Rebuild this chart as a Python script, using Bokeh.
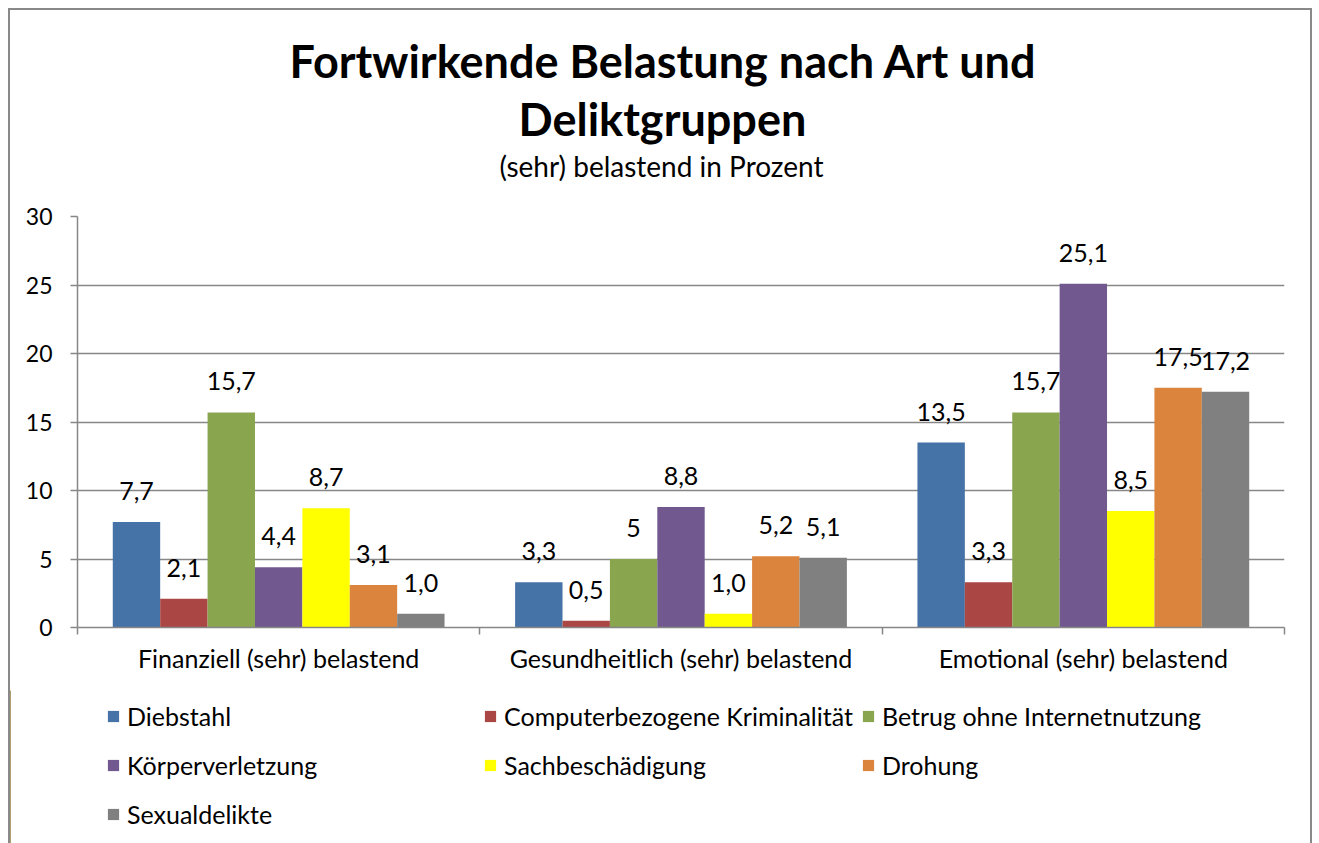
from bokeh.plotting import figure
from bokeh.layouts import column
from bokeh.models import FixedTicker, Legend, LegendItem, Title, Range1d
from bokeh.embed import file_html
from bokeh.resources import INLINE
from bokeh.core.properties import value

categories = ["Finanziell (sehr) belastend", "Gesundheitlich (sehr) belastend", "Emotional (sehr) belastend"]
series = ["Diebstahl", "Computerbezogene Kriminalität", "Betrug ohne Internetnutzung",
          "Körperverletzung", "Sachbeschädigung", "Drohung", "Sexualdelikte"]
colors = ["#4572A7", "#AA4643", "#89A54E", "#71588F", "#FFFF00", "#DB843D", "#808080"]

diebstahl = [7.7, 3.3, 13.5]
computer = [2.1, 0.5, 3.3]
betrug = [15.7, 5.0, 15.7]
koerper = [4.4, 8.8, 25.1]
sachbesch = [8.7, 1.0, 8.5]
drohung = [3.1, 5.2, 17.5]
sexual = [1.0, 5.1, 17.2]

diebstahl_lbl = ["7,7", "3,3", "13,5"]
computer_lbl = ["2,1", "0,5", "3,3"]
betrug_lbl = ["15,7", "5", "15,7"]
koerper_lbl = ["4,4", "8,8", "25,1"]
sachbesch_lbl = ["8,7", "1,0", "8,5"]
drohung_lbl = ["3,1", "5,2", "17,5"]
sexual_lbl = ["1,0", "5,1", "17,2"]

y_ticks = [0, 5, 10, 15, 20, 25, 30]

values = [diebstahl, computer, betrug, koerper, sachbesch, drohung, sexual]
labels = [diebstahl_lbl, computer_lbl, betrug_lbl, koerper_lbl, sachbesch_lbl, drohung_lbl, sexual_lbl]

FONT = "Lato"
GRAY = "#878787"
FS = "25px"

p = figure(width=1300, height=680, x_range=Range1d(0, 3), y_range=Range1d(0, 30),
           output_backend="svg", toolbar_location=None,
           min_border_left=67, min_border_right=26, min_border_top=206, min_border_bottom=63)
p.outline_line_color = None
p.background_fill_color = "white"
p.border_fill_color = "white"

bw = 0.1178
renderers = []
for j, (vals, lbls) in enumerate(zip(values, labels)):
    xs = [i + 0.5 + (j - 3) * bw for i in range(len(categories))]
    r = p.vbar(x=xs, top=vals, width=bw, fill_color=colors[j], line_color=None)
    renderers.append(r)
    p.text(x=xs, y=vals, text=lbls, text_align="center", text_baseline="middle",
           y_offset=-31, text_font=value(FONT), text_font_size=FS, text_color="black")

# y axis
p.yaxis.ticker = FixedTicker(ticks=y_ticks)
p.yaxis.major_label_text_font = FONT
p.yaxis.major_label_text_font_size = "23px"
p.yaxis.major_label_text_color = "black"
p.yaxis.major_tick_out = 7
p.yaxis.major_tick_in = 0
p.yaxis.major_tick_line_color = GRAY
p.yaxis.major_tick_line_width = 1.5
p.yaxis.minor_tick_line_color = None
p.yaxis.axis_line_color = GRAY
p.yaxis.axis_line_width = 1.5
p.yaxis.major_label_standoff = 18

# x axis
p.xaxis.ticker = FixedTicker(ticks=[0.5, 1.5, 2.5], minor_ticks=[0, 1, 2, 3])
p.xaxis.major_label_overrides = {0.5: categories[0], 1.5: categories[1], 2.5: categories[2]}
p.xaxis.major_label_text_font = FONT
p.xaxis.major_label_text_font_size = FS
p.xaxis.major_label_text_color = "black"
p.xaxis.major_tick_line_color = None
p.xaxis.major_tick_out = 0
p.xaxis.major_tick_in = 0
p.xaxis.minor_tick_out = 7
p.xaxis.minor_tick_in = 0
p.xaxis.minor_tick_line_color = GRAY
p.xaxis.minor_tick_line_width = 1.5
p.xaxis.axis_line_color = GRAY
p.xaxis.axis_line_width = 1.5
p.xaxis.major_label_standoff = 8

p.xgrid.visible = False
p.ygrid.ticker = FixedTicker(ticks=y_ticks)
p.ygrid.grid_line_color = GRAY
p.ygrid.grid_line_width = 1.5

# titles (first added = closest to plot); centred on the whole chart box
p.add_layout(Title(text=" ", text_font_size="10px", standoff=20), "above")
p.add_layout(Title(text="(sehr) belastend in Prozent", align="left", offset=422, text_font=FONT,
                   text_font_size="28px", text_font_style="normal", text_color="black",
                   standoff=1), "above")
p.add_layout(Title(text="Deliktgruppen", align="left", offset=441, text_font=FONT,
                   text_font_size="45px", text_font_style="bold", text_color="black",
                   standoff=1), "above")
p.add_layout(Title(text="Fortwirkende Belastung nach Art und", align="left", offset=212, text_font=FONT,
                   text_font_size="45px", text_font_style="bold", text_color="black",
                   standoff=3), "above")

# legend panel (separate figure below the chart)
q = figure(width=1300, height=153, x_range=Range1d(0, 1), y_range=Range1d(0, 1),
           output_backend="svg", toolbar_location=None, x_axis_type=None, y_axis_type=None,
           min_border_left=0, min_border_right=0, min_border_top=0, min_border_bottom=0,
           frame_align=False)
q.grid.visible = False
q.outline_line_color = None
q.background_fill_color = "white"
q.border_fill_color = "white"
# legend-only glyphs (zero width, nothing drawn in the panel itself)
leg_renderers = [q.vbar(x=[-5], top=[1], width=0, fill_color=c, line_color=None) for c in colors]

legend = Legend(items=[LegendItem(label=s, renderers=[r]) for s, r in zip(series, leg_renderers)],
                ncols=3, orientation="horizontal", location=(96, 9),
                label_text_font=FONT, label_text_font_size=FS, label_text_color="black",
                glyph_width=14, glyph_height=14, label_standoff=7, spacing=8,
                label_width=348, label_height=41,
                border_line_color=None, background_fill_alpha=0, padding=0, margin=0)
q.add_layout(legend, "center")

layout = column(p, q, spacing=0, margin=(8, 0, 0, 8),
                styles={"border-left": "2px solid #898989", "border-top": "2px solid #898989",
                        "border-right": "2px solid #898989"})

open("out.html", "w").write(file_html(layout, INLINE))
